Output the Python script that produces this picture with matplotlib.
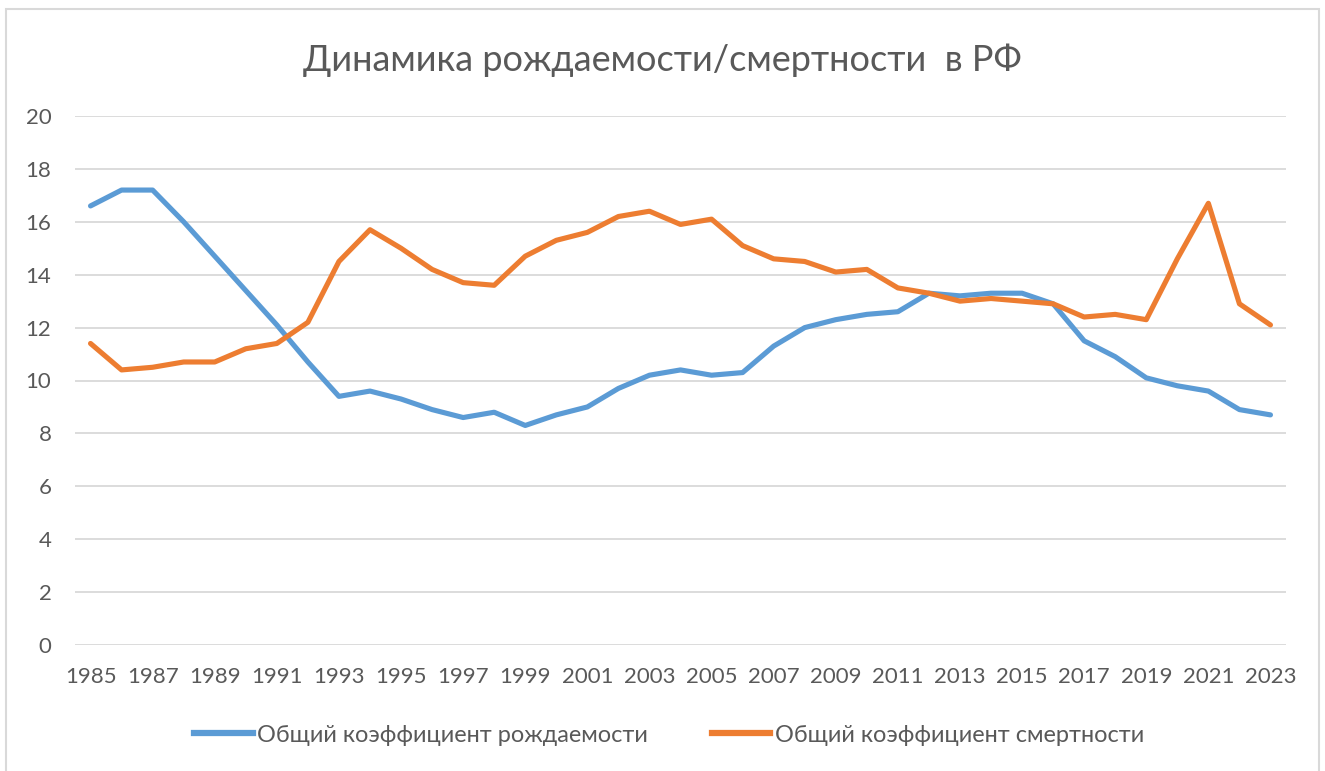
import matplotlib.pyplot as plt
from matplotlib.patches import Rectangle
from matplotlib.lines import Line2D

# data
years = list(range(1985, 2024))
birth = [16.6, 17.2, 17.2, 16.0, 14.7, 13.4, 12.1, 10.7, 9.4, 9.6,
         9.3, 8.9, 8.6, 8.8, 8.3, 8.7, 9.0, 9.7, 10.2, 10.4,
         10.2, 10.3, 11.3, 12.0, 12.3, 12.5, 12.6, 13.3, 13.2, 13.3,
         13.3, 12.9, 11.5, 10.9, 10.1, 9.8, 9.6, 8.9, 8.7]
death = [11.4, 10.4, 10.5, 10.7, 10.7, 11.2, 11.4, 12.2, 14.5, 15.7,
         15.0, 14.2, 13.7, 13.6, 14.7, 15.3, 15.6, 16.2, 16.4, 15.9,
         16.1, 15.1, 14.6, 14.5, 14.1, 14.2, 13.5, 13.3, 13.0, 13.1,
         13.0, 12.9, 12.4, 12.5, 12.3, 14.6, 16.7, 12.9, 12.1]
xticks = years[::2]
yticks = list(range(0, 21, 2))

title = 'Динамика рождаемости/смертности  в РФ'
lbl_birth = 'Общий коэффициент рождаемости'
lbl_death = 'Общий коэффициент смертности'

BLUE = '#5B9BD5'
ORANGE = '#ED7D31'
GRID = '#D9D9D9'
TXT = '#595959'

plt.rcParams['font.family'] = ['Lato', 'DejaVu Sans']

W, H = 1325, 771
fig = plt.figure(figsize=(W / 100, H / 100), dpi=100)

# chart frame
fig.patches.append(Rectangle((6 / W, -0.05), 1313 / W, 1.05 - 9 / H,
                             transform=fig.transFigure, fill=False,
                             edgecolor=GRID, linewidth=1.5))

ax = fig.add_axes([75 / W, 1 - 645 / H, 1211 / W, (645 - 116) / H])
ax.plot(years, birth, color=BLUE, lw=3.7, solid_joinstyle='round',
        solid_capstyle='round', zorder=3)
ax.plot(years, death, color=ORANGE, lw=3.7, solid_joinstyle='round',
        solid_capstyle='round', zorder=3)

ax.set_xlim(1984.5, 2023.5)
ax.set_ylim(0, 20)
ax.set_xticks(xticks)
ax.set_yticks(yticks)
ax.tick_params(length=0, labelsize=16, labelcolor=TXT)
ax.tick_params(axis='x', pad=16)
ax.tick_params(axis='y', pad=17)
ax.grid(axis='y', color=GRID, lw=1.3)
ax.set_axisbelow(True)
for s in ax.spines.values():
    s.set_visible(False)

fig.text(0.5, 1 - 60 / H, title, ha='center', va='center',
         fontsize=26, color=TXT)

handles = [Line2D([], [], color=BLUE, lw=4.5),
           Line2D([], [], color=ORANGE, lw=4.5)]
fig.legend(handles, [lbl_birth, lbl_death], loc='center',
           bbox_to_anchor=(0.505, 1 - 735 / H), ncol=2, frameon=False,
           fontsize=16.9, labelcolor=TXT, handlelength=2.5,
           handletextpad=0.2, columnspacing=2.7)

fig.savefig('out.png', dpi=100, facecolor='white')
